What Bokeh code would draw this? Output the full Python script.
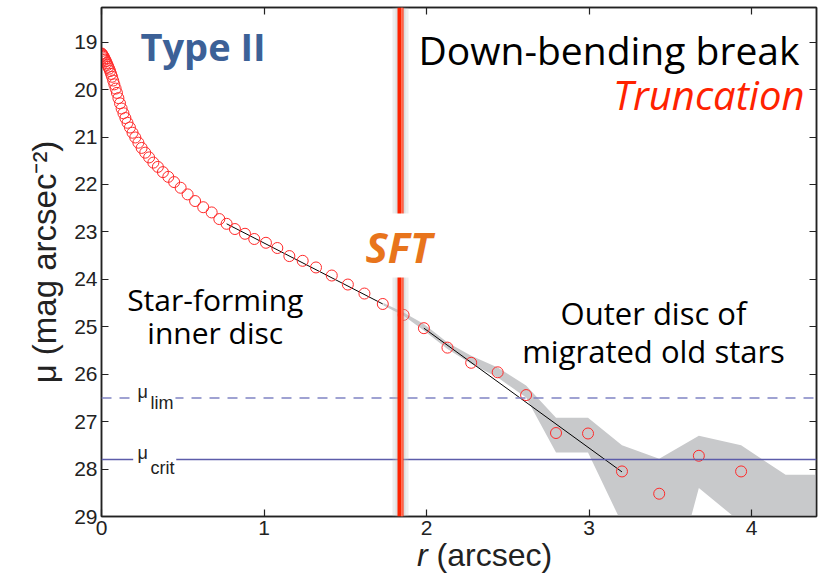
from bokeh.plotting import figure
from bokeh.models import Range1d, LinearAxis, Label, Span, BoxAnnotation, FixedTicker, Div
from bokeh.layouts import column
from bokeh.embed import file_html
from bokeh.resources import INLINE

# ---------------- data ----------------
r_inner = [0.000, 0.003, 0.006, 0.010, 0.014, 0.018, 0.022, 0.027, 0.032, 0.037,
           0.042, 0.047, 0.053, 0.059, 0.065, 0.072, 0.079, 0.087, 0.095, 0.104,
           0.114, 0.124, 0.135, 0.147, 0.160, 0.175, 0.191, 0.208, 0.227, 0.247,
           0.269, 0.293, 0.319, 0.347, 0.378, 0.411, 0.447, 0.487, 0.530, 0.576,
           0.626, 0.678, 0.725, 0.770, 0.821, 0.883, 0.940, 1.012, 1.082, 1.156,
           1.238, 1.320, 1.417, 1.516, 1.618, 1.731]
mu_inner = [19.24, 19.25, 19.27, 19.29, 19.31, 19.34, 19.37, 19.40, 19.44, 19.48,
            19.52, 19.56, 19.61, 19.67, 19.73, 19.81, 19.89, 19.98, 20.07, 20.18,
            20.29, 20.40, 20.50, 20.60, 20.70, 20.80, 20.91, 21.01, 21.12, 21.23,
            21.33, 21.43, 21.54, 21.63, 21.74, 21.84, 21.95, 22.07, 22.21, 22.35,
            22.48, 22.59, 22.73, 22.83, 22.94, 23.04, 23.15, 23.23, 23.34, 23.51,
            23.61, 23.75, 23.92, 24.11, 24.30, 24.52]
r_outer = [1.859, 1.984, 2.129, 2.275, 2.438, 2.613, 2.797, 2.994, 3.203, 3.432, 3.676, 3.936]
mu_outer = [24.75, 25.03, 25.44, 25.76, 25.96, 26.44, 27.24, 27.25, 28.05, 28.52, 27.72, 28.05]

band_r = [1.735, 1.859, 1.984, 2.129, 2.275, 2.438, 2.613, 2.797, 2.994, 3.203, 3.432, 3.676, 3.936, 4.21, 4.45]
band_upper = [24.50, 24.70, 24.94, 25.33, 25.61, 25.86, 26.24, 26.92, 26.92, 27.50, 27.78, 27.30, 27.50, 28.12, 28.12]
band_lower = [24.55, 24.77, 25.08, 25.47, 25.78, 26.07, 26.49, 27.65, 27.65, 29.15, 31.50, 28.40, 29.13, 30.00, 30.00]

inner_fit_r = [0.770, 1.731]
inner_fit_mu = [22.83, 24.52]
outer_fit_r = [1.984, 3.203]
outer_fit_mu = [25.03, 28.06]

r_sft = 1.84
mu_lim = 26.5
mu_crit = 27.8

x_ticks = [0, 1, 2, 3, 4]
y_ticks = [19, 20, 21, 22, 23, 24, 25, 26, 27, 28, 29]

# ---------------- figure ----------------
p = figure(width=822, height=544, x_range=Range1d(0, 4.4), y_range=Range1d(29, 18.27),
           output_backend="svg", toolbar_location=None,
           min_border_left=101, min_border_right=6, min_border_top=7, min_border_bottom=28)
p.background_fill_color = "white"
p.border_fill_color = "white"
p.outline_line_color = "#222222"
p.outline_line_width = 1.5
p.xgrid.visible = False
p.ygrid.visible = False

TICKFONT = "Liberation Sans"

def style_axis(ax, ticks, show_labels=True, standoff=5):
    ax.ticker = FixedTicker(ticks=ticks)
    ax.major_tick_in = 7
    ax.major_tick_out = 0
    ax.minor_tick_line_color = None
    ax.axis_line_color = "#222222"
    ax.axis_line_width = 1.5
    ax.major_tick_line_color = "#222222"
    ax.major_tick_line_width = 1.2
    ax.major_label_text_font = TICKFONT
    ax.major_label_text_font_size = "21px"
    ax.major_label_text_color = "#222222"
    ax.major_label_standoff = standoff
    if not show_labels:
        ax.major_label_text_font_size = "0px"
        ax.major_label_standoff = 0
        ax.major_label_text_color = None

style_axis(p.xaxis[0], x_ticks, True, 4)
style_axis(p.yaxis[0], y_ticks, True, 4)
p.yaxis[0].axis_label = "μ (mag arcsec⁻²)"
p.yaxis[0].axis_label_text_font = TICKFONT
p.yaxis[0].axis_label_text_font_size = "33px"
p.yaxis[0].axis_label_text_font_style = "normal"
p.yaxis[0].axis_label_text_color = "#222222"
p.yaxis[0].axis_label_standoff = 8

top_ax = LinearAxis()
style_axis(top_ax, x_ticks, False)
right_ax = LinearAxis()
style_axis(right_ax, y_ticks, False)
p.add_layout(top_ax, "above")
p.add_layout(right_ax, "right")

# ---------------- glyphs ----------------
p.varea(x=band_r, y1=band_upper, y2=band_lower, fill_color="#C8C9CB")
p.line(inner_fit_r, inner_fit_mu, line_color="black", line_width=1)
p.line(outer_fit_r, outer_fit_mu, line_color="black", line_width=1)
p.scatter(r_inner, mu_inner, marker="circle", size=11, fill_color=None,
          line_color="#FF2A2A", line_width=1)
p.scatter(r_outer, mu_outer, marker="circle", size=11, fill_color=None,
          line_color="#FF2A2A", line_width=1)

# reference lines
p.add_layout(Span(location=mu_lim, dimension="width", line_color="#8084C4",
                  line_width=1.5, line_dash="10 8"))
p.add_layout(Span(location=mu_crit, dimension="width", line_color="#5C5CAA",
                  line_width=1.5))

# SFT vertical line with glow
p.add_layout(Span(location=r_sft, dimension="height", line_color="#BBBBBB",
                  line_alpha=0.25, line_width=16))
p.add_layout(Span(location=r_sft, dimension="height", line_color="#BBBBBB",
                  line_alpha=0.3, line_width=10))
p.add_layout(Span(location=r_sft, dimension="height", line_color="#FF2200",
                  line_width=6))
p.add_layout(Span(location=r_sft + 0.009, dimension="height", line_color="#FFB3A0",
                  line_width=1))

# white boxes behind labels
p.add_layout(BoxAnnotation(left=1.563, right=2.148, top=22.61, bottom=23.96,
                           fill_color="white", fill_alpha=1, line_color=None))
p.add_layout(BoxAnnotation(left=0.189, right=0.455, top=26.33, bottom=26.67,
                           fill_color="white", fill_alpha=1, line_color=None))
p.add_layout(BoxAnnotation(left=0.195, right=0.460, top=27.65, bottom=27.95,
                           fill_color="white", fill_alpha=1, line_color=None))

# ---------------- texts ----------------
MAIN = "Open Sans"
DY = 0.28

def lab(x, y, text, size, color="black", font=MAIN, style="normal", align="left"):
    p.add_layout(Label(x=x, y=y, text=text, text_font=font, text_font_size=size,
                       text_color=color, text_font_style=style, text_align=align,
                       text_baseline="alphabetic"))

lab(0.24, 19.37 - DY, "Type II", "38px", "#3C6197", style="bold")
lab(1.951, 19.435 - DY, "Down-bending break", "39px")
lab(4.326, 20.38 - DY, "Truncation", "40px", "#FF2200", style="italic", align="right")
lab(1.625, 23.585 - DY, "SFT", "42px", "#E8741C", style="bold italic")
lab(0.70, 24.70 - DY, "Star-forming", "30px", align="center")
lab(0.70, 25.40 - DY, "inner disc", "30px", align="center")
lab(3.397, 25.00 - DY, "Outer disc of", "31px", align="center")
lab(3.397, 25.79 - DY, "migrated old stars", "31px", align="center")

lab(0.222, 26.50 - 0.13, "μ", "18px", "#222222", font=TICKFONT)
lab(0.302, 26.73 - 0.13, "lim", "18px", "#222222", font=TICKFONT)
lab(0.222, 27.80 - 0.13, "μ", "18px", "#222222", font=TICKFONT)
lab(0.302, 28.10 - 0.13, "crit", "18px", "#222222", font=TICKFONT)

# x-axis title as HTML below the figure (italic r)
xlabel = Div(
    text=('<div style="margin-left:417px;font-family:\'Liberation Sans\',sans-serif;'
          'font-size:32px;line-height:23px;color:#222222;white-space:nowrap;">'
          '<i>r</i> (arcsec)</div>'),
    width=822, height=30, margin=(0, 0, 0, 0))

layout = column(p, xlabel, spacing=0)
open("out.html", "w").write(file_html(layout, INLINE))
